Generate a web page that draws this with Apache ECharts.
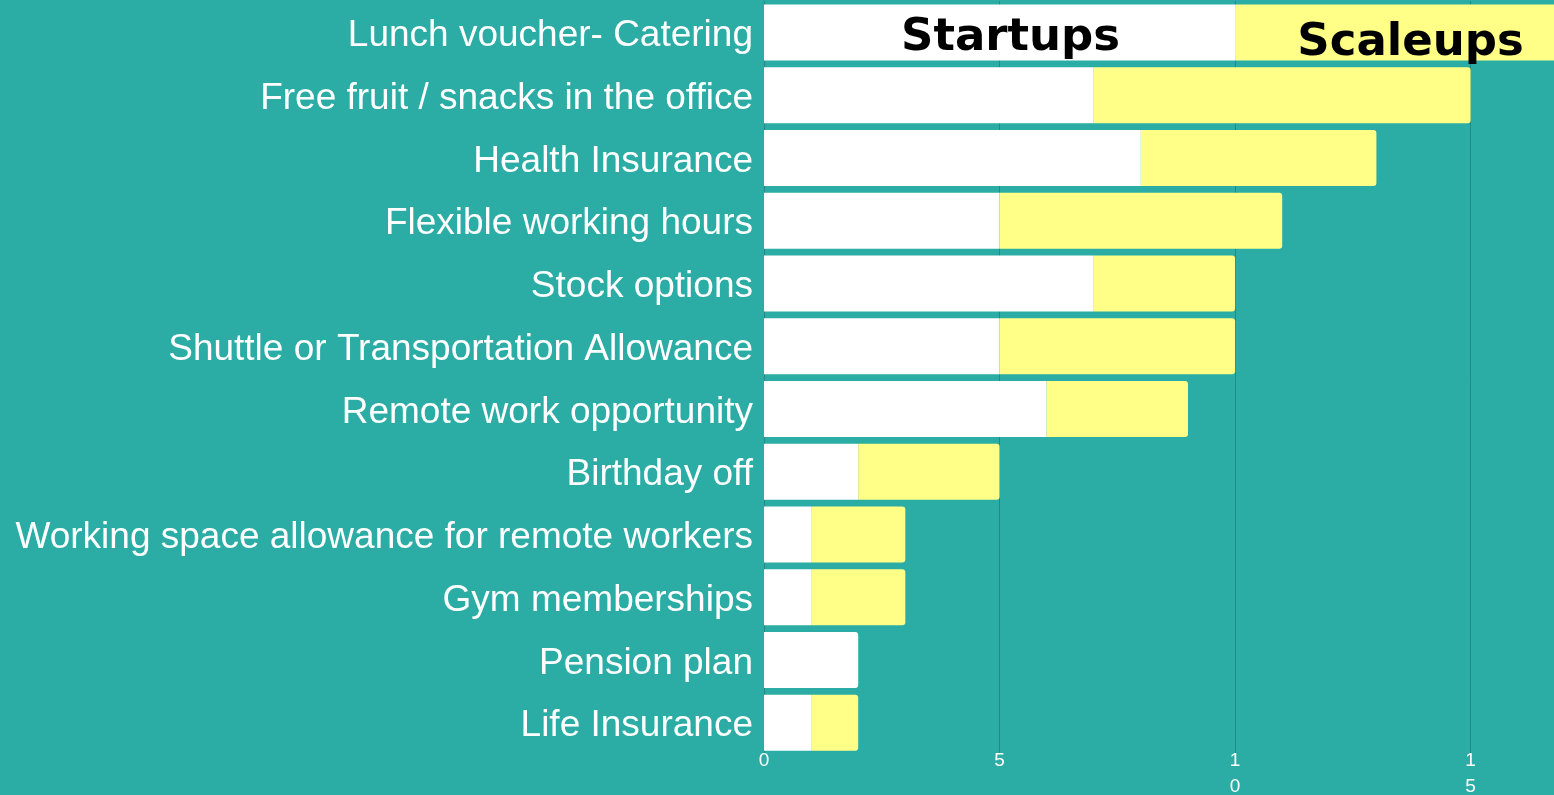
<!DOCTYPE html>
<html>
<head>
<meta charset="utf-8">
<script src="https://cdn.jsdelivr.net/npm/echarts@6/dist/echarts.min.js"></script>
<style>
  html, body { margin: 0; padding: 0; background: #2BACA5; }
  #chart { width: 1554px; height: 795px; }
</style>
</head>
<body>
<div id="chart"></div>
<script>
// categories, top to bottom
const categories = [
  'Lunch voucher- Catering',
  'Free fruit / snacks in the office',
  'Health Insurance',
  'Flexible working hours',
  'Stock options',
  'Shuttle or Transportation Allowance',
  'Remote work opportunity',
  'Birthday off',
  'Working space allowance for remote workers',
  'Gym memberships',
  'Pension plan',
  'Life Insurance'
]
const startups = [10, 7, 8, 5, 7, 5, 6, 2, 1, 1, 2, 1]
const scaleups = [7, 8, 5, 6, 3, 5, 3, 3, 2, 2, 0, 1]
const xTicks = [0, 5, 10, 15]

const teal = '#2BACA5'
const gridColor = '#1E8C86'
const yellow = '#FFFF88'
const radius = [0, 3, 3, 0]

const chart = echarts.init(document.getElementById('chart'))

// first row acts as the legend, so it gets labels and square corners
const startupData = startups.map((v, i) => {
  const item = { value: v }
  if (i === 0) {
    item.itemStyle = { borderRadius: 0 }
    item.label = { show: true, formatter: 'Startups', offset: [11, 6] }
  } else if (scaleups[i] === 0) {
    item.itemStyle = { borderRadius: radius }
  }
  return item
})
const scaleupData = scaleups.map((v, i) => {
  const item = { value: v }
  if (i === 0) {
    item.itemStyle = { borderRadius: 0 }
    item.label = { show: true, formatter: 'Scaleups', offset: [16, 11] }
  }
  return item
})

const headLabel = {
  show: false,
  position: 'inside',
  color: '#000',
  fontFamily: 'DejaVu Sans',
  fontWeight: 'bold',
  fontSize: 45
}

chart.setOption({
  backgroundColor: teal,
  animation: false,
  grid: {
    left: 764,
    right: 0,
    top: 1,
    bottom: 41,
    outerBoundsMode: 'none',
    containLabel: false
  },
  xAxis: {
    type: 'value',
    min: 0,
    max: 16.77,
    interval: 5,
    axisLine: { show: false },
    axisTick: { show: false },
    splitLine: { show: true, lineStyle: { color: gridColor, width: 1 } },
    axisLabel: {
      color: '#fff',
      fontSize: 19,
      fontFamily: 'Liberation Sans',
      lineHeight: 26,
      margin: -6,
      showMaxLabel: false,
      formatter: (v) => xTicks.includes(v) ? String(v).split('').join('\n') : ''
    }
  },
  yAxis: {
    type: 'category',
    inverse: true,
    data: categories,
    axisLine: { show: true, lineStyle: { color: gridColor } },
    axisTick: { show: false },
    axisLabel: {
      color: '#fff',
      margin: 11,
      formatter: (v) => '{t|' + v + '}',
      rich: {
        t: {
          color: '#fff',
          fontSize: 37,
          fontFamily: 'Liberation Sans',
          padding: [7, 0, 0, 0]
        }
      }
    }
  },
  series: [
    {
      name: 'Startups',
      type: 'bar',
      stack: 'total',
      barWidth: 56,
      itemStyle: { color: '#fff' },
      label: headLabel,
      data: startupData
    },
    {
      name: 'Scaleups',
      type: 'bar',
      stack: 'total',
      barWidth: 56,
      itemStyle: { color: yellow, borderRadius: radius },
      label: headLabel,
      data: scaleupData
    }
  ]
})
</script>
</body>
</html>
